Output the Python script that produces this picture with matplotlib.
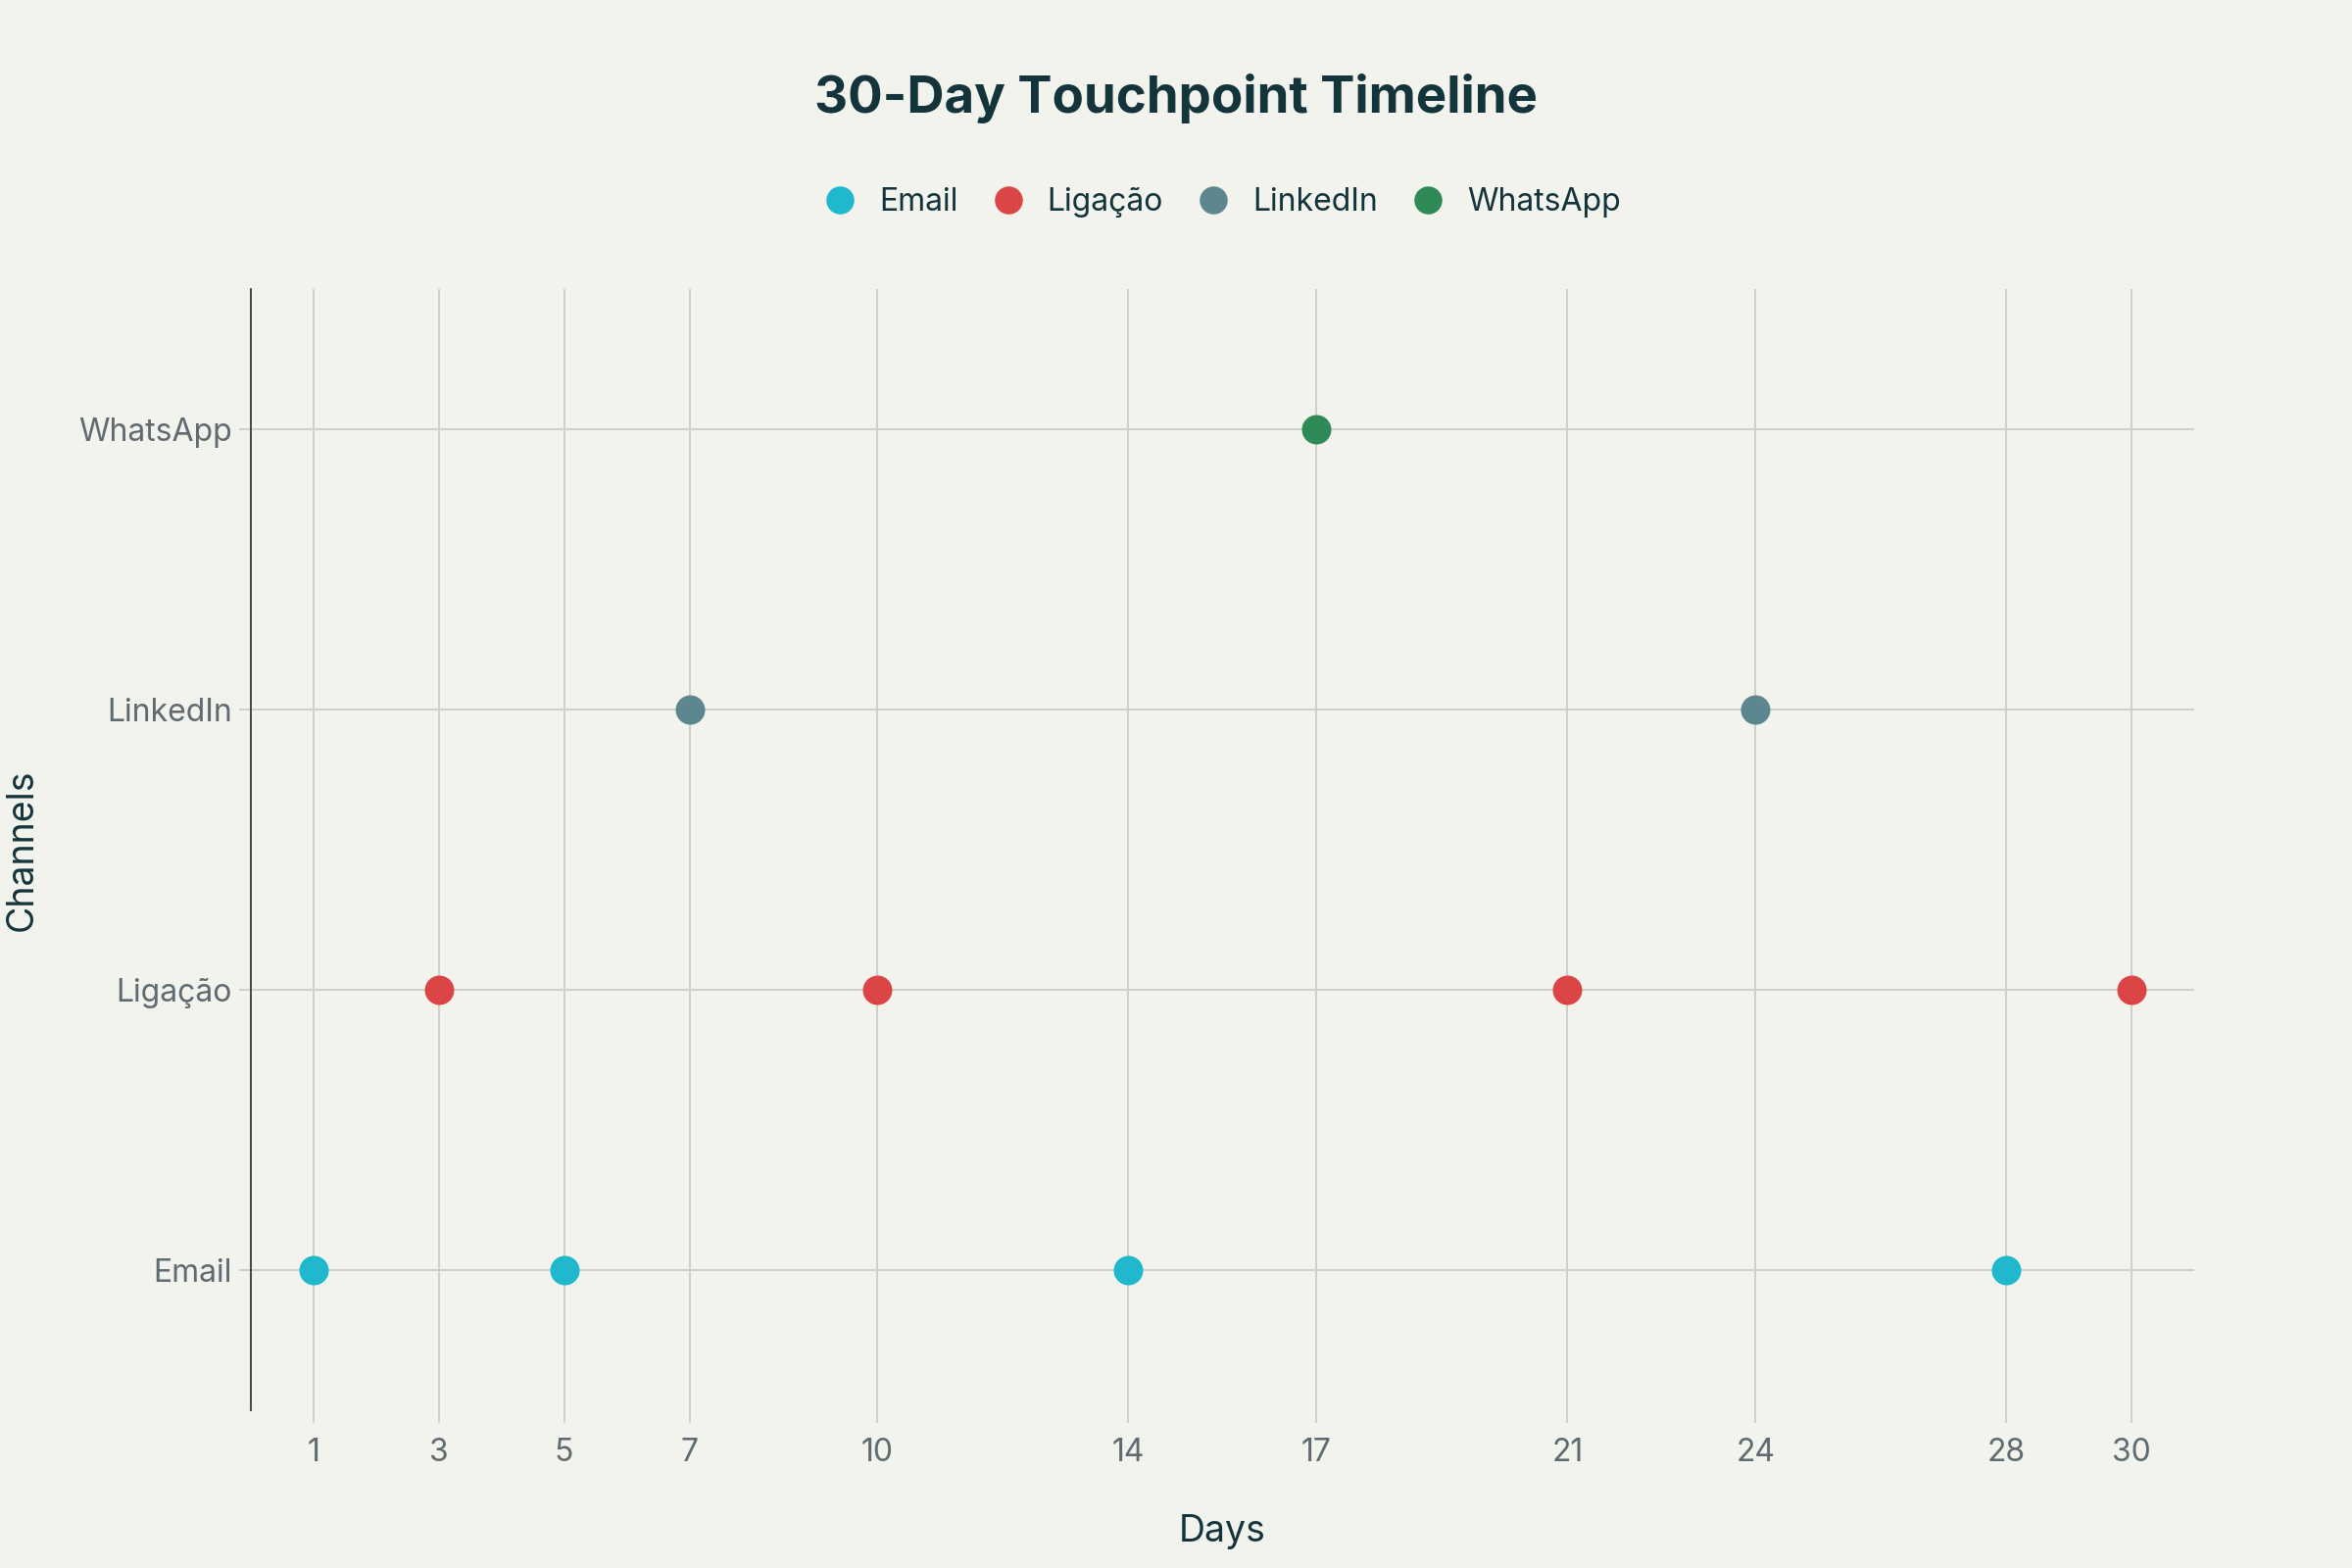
import matplotlib
matplotlib.use("Agg")
import matplotlib.pyplot as plt

channels = ["Email", "Ligação", "LinkedIn", "WhatsApp"]
colors = ["#1FB8CD", "#DB4545", "#5D878F", "#2E8B57"]

email_days = [1, 5, 14, 28]
ligacao_days = [3, 10, 21, 30]
linkedin_days = [7, 24]
whatsapp_days = [17]

day_ticks = [1, 3, 5, 7, 10, 14, 17, 21, 24, 28, 30]

series = [email_days, ligacao_days, linkedin_days, whatsapp_days]

bg = "#F3F3EE"
text_dark = "#13343B"
tick_gray = "#5F6B70"
grid_col = "#D0D0CB"

plt.rcParams["font.family"] = ["Inter", "DejaVu Sans"]

fig = plt.figure(figsize=(12, 8), dpi=200, facecolor=bg)
ax = fig.add_axes([0.1065, 0.1006, 0.8265, 0.715])
ax.set_facecolor(bg)

for i, (name, days) in enumerate(zip(channels, series)):
    ax.plot(days, [i] * len(days), "o", color=colors[i], markersize=10.8,
            markeredgewidth=0, label=name, zorder=3)

ax.set_xlim(0, 31)
ax.set_ylim(-0.5, 3.5)
ax.set_xticks(day_ticks)
ax.set_yticks(range(len(channels)))
ax.set_yticklabels(channels)

ax.grid(True, color=grid_col, linewidth=0.7, zorder=0)
ax.set_axisbelow(True)
for s in ["top", "right", "bottom"]:
    ax.spines[s].set_visible(False)
ax.spines["left"].set_color("#444444")
ax.spines["left"].set_linewidth(0.7)

ax.tick_params(axis="x", colors=grid_col, labelcolor=tick_gray, labelsize=11.5,
               length=4.5, width=0.7, pad=5.5)
ax.tick_params(axis="y", colors=grid_col, labelcolor=tick_gray, labelsize=11.5,
               length=4.3, width=0.7, pad=2.5)

ax.set_xlabel("Days", fontsize=13.5, color=text_dark, labelpad=17)
ax.set_ylabel("Channels", fontsize=13.5, color=text_dark, labelpad=14)

fig.suptitle("30-Day Touchpoint Timeline", fontsize=19, fontweight="bold",
             color=text_dark, y=0.937, va="center")

ax.legend(loc="center", bbox_to_anchor=(0.5, 1.0775), ncol=4, frameon=False,
          fontsize=11.5, labelcolor=text_dark, handlelength=1.0,
          handletextpad=0.75, columnspacing=1.1, markerscale=0.95)

fig.savefig("out.png", dpi=200, facecolor=bg)
